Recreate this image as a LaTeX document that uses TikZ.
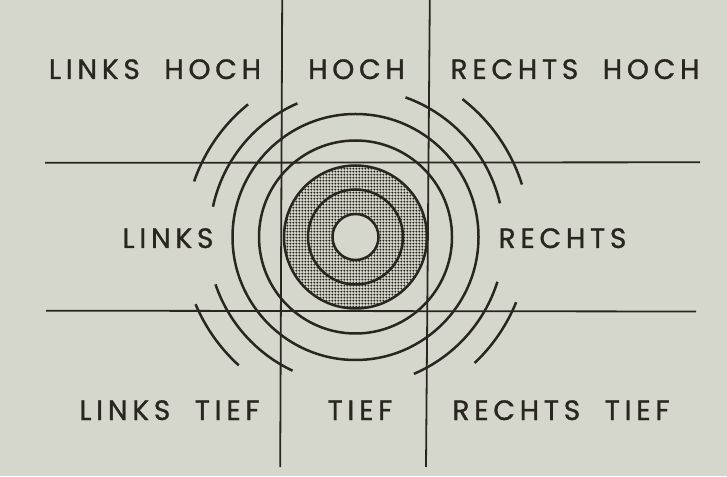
\documentclass[tikz,border=0pt]{standalone}
\usepackage{fontspec}
\newfontfamily\labfont[LetterSpace=17,WordSpace=2,FakeBold=1.1]{Poppins}
\usetikzlibrary{patterns.meta}
\definecolor{paper}{RGB}{214,215,204}
\definecolor{ink}{RGB}{40,38,31}
\tikzdeclarepattern{
  name=stipple,
  type=uncolored,
  bounding box={(0pt,0pt) and (3.3pt,3.3pt)},
  tile size={(3.3pt,3.3pt)},
  code={\pgfpathcircle{\pgfpoint{1.65pt}{1.65pt}}{1.25pt}\pgfusepath{fill}}
}
\begin{document}
\begin{tikzpicture}[x=1pt,y=1pt,
  gridline/.style={draw=ink, line width=1.8pt},
  ring/.style={draw=ink, line width=2.5pt},
  lab/.style={text=ink, font=\labfont\fontsize{28}{32}\selectfont, inner sep=0pt, anchor=base}]
\fill[paper] (0,0) rectangle (727,476);
\useasboundingbox (0,0) rectangle (727,476);
\coordinate (C) at (355.5,239);
% grid
\coordinate (v1t) at (282.2,476);
\coordinate (v1b) at (280.2,9);
\coordinate (v2t) at (429.8,476);
\coordinate (v2b) at (426,9);
\coordinate (h1l) at (45,313.2);
\coordinate (h1r) at (700,313.7);
\coordinate (h2l) at (46,165.3);
\coordinate (h2r) at (696,164.5);
% stippled ring
\fill[pattern=stipple, pattern color=ink, even odd rule] (C) circle (71.5) (C) circle (23);
\draw[gridline] (v1t) -- (v1b);
\draw[gridline] (v2t) -- (v2b);
\draw[gridline] (h1l) -- (h1r);
\draw[gridline] (h2l) -- (h2r);
% circles
\draw[ring] (C) circle (23);
\draw[ring] (C) circle (47.5);
\draw[ring] (C) circle (71.5);
\draw[ring] (C) circle (96.5);
\draw[ring] (C) circle (123);
% arcs
\draw[ring] ([shift={(129:170.7)}]C) arc[start angle=129, end angle=161, radius=170.7];
\draw[ring] ([shift={(113.5:145.7)}]C) arc[start angle=113.5, end angle=168, radius=145.7];
\draw[ring] ([shift={(17.5:174.5)}]C) arc[start angle=17.5, end angle=52.2, radius=174.5];
\draw[ring] ([shift={(13.1:148.3)}]C) arc[start angle=13.1, end angle=70.3, radius=148.3];
\draw[ring] ([shift={(202.8:173.5)}]C) arc[start angle=202.8, end angle=227.7, radius=173.5];
\draw[ring] ([shift={(198.7:147.8)}]C) arc[start angle=198.7, end angle=244.8, radius=147.8];
\draw[ring] ([shift={(-46.6:173.4)}]C) arc[start angle=-46.6, end angle=-22.1, radius=173.4];
\draw[ring] ([shift={(-66.9:148.8)}]C) arc[start angle=-66.9, end angle=-17.5, radius=148.8];
% labels
\node[lab] (lh) at (155,397) {LINKS HOCH};
\node[lab] (h)  at (356.5,397) {HOCH};
\node[lab] (rh) at (575,397) {RECHTS HOCH};
\node[lab] (l)  at (168,228) {LINKS};
\node[lab] (r)  at (562.5,228) {RECHTS};
\node[lab] (lt) at (169.5,56) {LINKS TIEF};
\node[lab] (t)  at (360,56) {TIEF};
\node[lab] (rt) at (561,56) {RECHTS TIEF};
\end{tikzpicture}
\end{document}
